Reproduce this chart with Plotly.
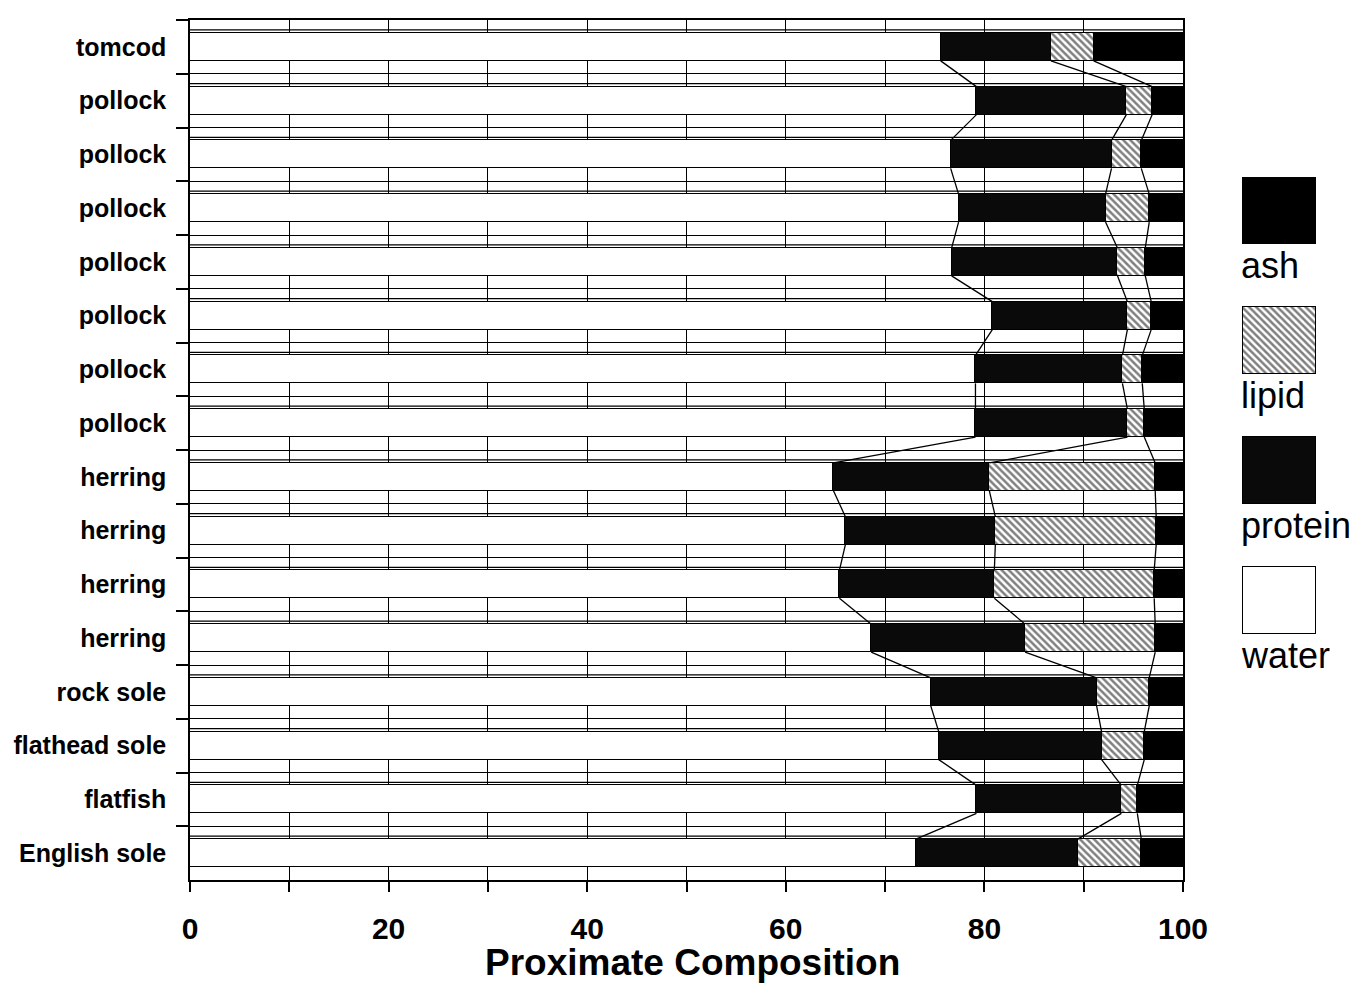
import plotly.graph_objects as go
import numpy as np

species = ["tomcod", "pollock", "pollock", "pollock", "pollock", "pollock", "pollock", "pollock",
           "herring", "herring", "herring", "herring", "rock sole", "flathead sole", "flatfish", "English sole"]
water = [75.6, 79.2, 76.6, 77.4, 76.7, 80.8, 79.1, 79.1, 64.8, 66.0, 65.4, 68.6, 74.6, 75.4, 79.2, 73.1]
protein = [11.1, 15.1, 16.2, 14.8, 16.7, 13.6, 14.8, 15.3, 15.7, 15.1, 15.6, 15.5, 16.7, 16.4, 14.6, 16.3]
lipid = [4.3, 2.6, 3.0, 4.4, 2.8, 2.4, 2.0, 1.7, 16.7, 16.2, 16.1, 13.1, 5.3, 4.3, 1.6, 6.4]
ash = [9.0, 3.1, 4.2, 3.4, 3.8, 3.2, 4.1, 3.9, 2.8, 2.7, 2.9, 2.8, 3.4, 3.9, 4.6, 4.2]
components = ["ash", "lipid", "protein", "water"]
x_ticks = [0, 10, 20, 30, 40, 50, 60, 70, 80, 90, 100]
x_labels = ["0", "", "20", "", "40", "", "60", "", "80", "", "100"]
x_title = "Proximate Composition"

FONT = "Liberation Sans, Arial, sans-serif"
BW = 0.52
rows = list(range(len(species)))

L, R, T, B = 182, 40, 12, 112
PW = 1361 - L - R

fig = go.Figure()

styles = {
    "water": dict(color="white"),
    "protein": dict(color="#0a0a0a"),
    "lipid": dict(color="white", pattern=dict(shape="\\", fgcolor="black", bgcolor="white", size=5, solidity=0.5)),
    "ash": dict(color="black"),
}
series = {"water": water, "protein": protein, "lipid": lipid, "ash": ash}

for name in ["water", "protein", "lipid", "ash"]:
    fig.add_trace(go.Bar(
        x=series[name], y=rows, orientation="h", width=BW, name=name,
        marker=dict(**styles[name], line=dict(color="black", width=1.5)),
        showlegend=False, xaxis="x", yaxis="y",
    ))

# series lines connecting the segment boundaries of consecutive bars
cums = np.cumsum(np.array([water, protein, lipid]), axis=0)
for c in cums:
    xs, ys = [], []
    for i in range(len(species) - 1):
        xs += [c[i], c[i + 1], None]
        ys += [i + BW / 2, i + 1 - BW / 2, None]
    fig.add_trace(go.Scatter(x=xs, y=ys, mode="lines", line=dict(color="black", width=1.3),
                             showlegend=False, hoverinfo="skip", xaxis="x", yaxis="y"))

# legend swatches drawn on a small auxiliary axis
for k, name in enumerate(components):
    fig.add_trace(go.Bar(
        x=[1], y=[k], orientation="h", width=0.515, cliponaxis=False,
        marker=dict(**styles[name], line=dict(color="black", width=1.5)),
        showlegend=False, hoverinfo="skip", xaxis="x2", yaxis="y2",
    ))
    fig.add_annotation(x=0, y=k + 0.42, xref="x2", yref="y2", text=name, showarrow=False,
                       xanchor="left", yanchor="middle", xshift=-4,
                       font=dict(family=FONT, size=36, color="black"))

fig.add_annotation(x=(692 - 190) / PW, y=(880 - 962) / 860, xref="paper", yref="paper",
                   text=x_title, showarrow=False, xanchor="center", yanchor="middle",
                   font=dict(family=FONT, size=37, color="black", weight="bold"))

# 3-D top-face lines just above each bar
shapes = []
for i in rows:
    shapes.append(dict(type="line", xref="x", yref="y", x0=0, x1=100, y0=i - 0.315, y1=i - 0.315,
                       line=dict(color="black", width=1.3), layer="below"))

main_right = 993 / PW
fig.update_layout(
    width=1361, height=984,
    margin=dict(l=L, r=R, t=T, b=B, autoexpand=False),
    paper_bgcolor="white", plot_bgcolor="white",
    barmode="stack", bargap=0,
    shapes=shapes,
    xaxis=dict(domain=[0, main_right], range=[0, 100], tickvals=x_ticks, ticktext=x_labels,
               ticks="outside", ticklen=10, tickwidth=1.5, tickcolor="black",
               showgrid=True, gridcolor="black", gridwidth=1.3,
               showline=True, linecolor="black", linewidth=1.5, mirror=True,
               tickfont=dict(family=FONT, size=30, color="black", weight="bold"),
               ticklabelstandoff=11, zeroline=False, automargin=False),
    yaxis=dict(range=[15.5, -0.5], tickvals=rows, ticktext=species, ticks="",
               showgrid=False, zeroline=False, automargin=False,
               showline=True, linecolor="black", linewidth=1.5, mirror=True,
               minor=dict(tickvals=[i + 0.5 for i in rows[:-1]] + [-0.5], ticks="outside", ticklen=12,
                          tickcolor="black", tickwidth=1.5, showgrid=True, gridcolor="black", gridwidth=1.3),
               tickfont=dict(family=FONT, size=25, color="black", weight="bold"),
               ticklabelstandoff=17),
    xaxis2=dict(domain=[(1243 - 190 - 3.6) / PW, (1316 - 190) / PW], range=[-0.05, 1.0],
                visible=False, anchor="y2"),
    yaxis2=dict(domain=[0.2192, 0.8174], range=[3.7, -0.2575], visible=False, anchor="x2"),
)

fig.write_html("out.html")
